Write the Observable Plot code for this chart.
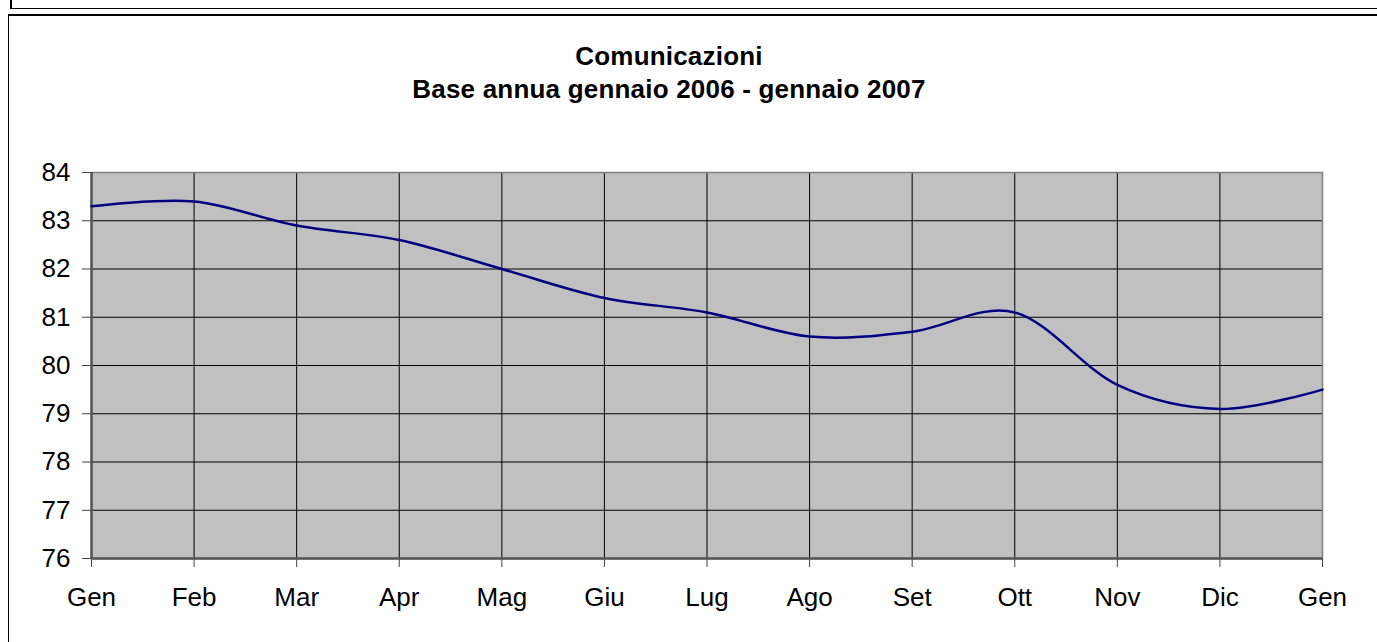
<!DOCTYPE html>
<html>
<head>
<meta charset="utf-8">
<script src="https://cdn.jsdelivr.net/npm/d3@7"></script>
<script src="https://cdn.jsdelivr.net/npm/@observablehq/plot@0.6"></script>
<style>
  html, body { margin: 0; padding: 0; background: #fff; }
  #wrap { position: relative; width: 1377px; height: 642px; overflow: hidden; font-family: "Liberation Sans", Arial, sans-serif; }
  .ln { position: absolute; background: #000; }
  .ttl { position: absolute; left: 0; width: 1338px; text-align: center; font-weight: bold; font-size: 26px; line-height: 26px; color: #000; letter-spacing: 0.2px; }
  #chart { position: absolute; left: 0; top: 0; }
</style>
</head>
<body>
<div id="wrap">
  <div class="ln" style="left:10px; top:0; width:1.5px; height:9px;"></div>
  <div class="ln" style="left:10px; top:7.5px; width:1367px; height:1.5px;"></div>
  <div class="ln" style="left:7.5px; top:14px; width:1.5px; height:628px;"></div>
  <div class="ln" style="left:7.5px; top:14px; width:1370px; height:1.5px;"></div>
  <div class="ttl" id="t1" style="top:42.5px;"></div>
  <div class="ttl" id="t2" style="top:75.5px;"></div>
  <div id="chart"></div>
</div>
<script>
const title = "Comunicazioni";
const subtitle = "Base annua gennaio 2006 - gennaio 2007";
const months = ["Gen","Feb","Mar","Apr","Mag","Giu","Lug","Ago","Set","Ott","Nov","Dic","Gen"];
const values = [83.3, 83.4, 82.9, 82.6, 82.0, 81.4, 81.1, 80.6, 80.7, 81.1, 79.6, 79.1, 79.5];
const yTicks = [76, 77, 78, 79, 80, 81, 82, 83, 84];

document.getElementById("t1").textContent = title;
document.getElementById("t2").textContent = subtitle;

const data = values.map((v, i) => ({i, v}));
const xIdx = months.map((_, i) => i);

const chart = Plot.plot({
  width: 1377,
  height: 642,
  marginLeft: 91,
  marginRight: 55,
  marginTop: 172,
  marginBottom: 84,
  style: { fontFamily: "'Liberation Sans', Arial, sans-serif", fontSize: "26px", background: "transparent", color: "#000" },
  x: { domain: [0, months.length - 1] },
  y: { domain: [yTicks[0], yTicks[yTicks.length - 1]] },
  marks: [
    Plot.frame({ fill: "#c0c0c0" }),
    Plot.gridX(xIdx, { stroke: "#000", strokeOpacity: 1, strokeWidth: 1 }),
    Plot.gridY(yTicks, { stroke: "#000", strokeOpacity: 1, strokeWidth: 1 }),
    Plot.frame({ stroke: "#808080", strokeWidth: 1.5 }),
    Plot.axisX({ ticks: xIdx, tickFormat: i => months[i], tickSize: 9, tickPadding: 20, label: null, fontSize: 26, stroke: "#444" }),
    Plot.axisY({ ticks: yTicks, tickSize: 9, tickPadding: 12, label: null, fontSize: 26, stroke: "#444" }),
    Plot.ruleX([0], { stroke: "#555", strokeWidth: 2.5 }),
    Plot.ruleY([yTicks[0]], { stroke: "#555", strokeWidth: 2.5 }),
    Plot.line(data, { x: "i", y: "v", curve: "cardinal", tension: 0, stroke: "#000080", strokeWidth: 2.5 })
  ]
});
document.getElementById("chart").appendChild(chart);
</script>
</body>
</html>
